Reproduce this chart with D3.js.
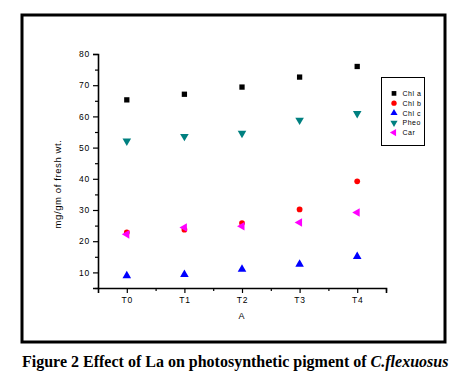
<!DOCTYPE html>
<html><head><meta charset="utf-8">
<script src="https://cdn.jsdelivr.net/npm/d3@7"></script>
<style>body{margin:0;background:#fff}svg{display:block}</style>
</head><body>
<svg id="c" width="466" height="389"></svg>
<script>
const categories = ["T0","T1","T2","T3","T4"];
const seriesNames = ["Chl a","Chl b","Chl c","Pheo","Car"];
const chlA = [65.3, 67.1, 69.4, 72.6, 76.0];
const chlB = [22.8, 23.7, 25.8, 30.2, 39.2];
const chlC = [8.9, 9.3, 11.0, 12.6, 15.1];
const pheo = [52.1, 53.6, 54.6, 58.8, 60.9];
const car  = [22.2, 24.4, 24.8, 26.0, 29.2];
const yMajorTicks = [10,20,30,40,50,60,70,80];
const yMinorTicks = [5,15,25,35,45,55,65,75];

const svg = d3.select("#c");
const font = "'Liberation Sans', Arial, sans-serif";

// outer frame
svg.append("rect").attr("x",22).attr("y",15).attr("width",423).attr("height",327)
  .attr("fill","none").attr("stroke","#000").attr("stroke-width",3);

const x = d3.scaleLinear().domain([-0.5,4.5]).range([98,386]);
const y = d3.scaleLinear().domain([5,80]).range([288,54]);

// y axis
const gy = svg.append("g").attr("transform","translate(98,0)");
gy.call(d3.axisLeft(y).tickValues(yMajorTicks).tickSize(5).tickPadding(3).tickFormat(d3.format("d")));
const gym = svg.append("g").attr("transform","translate(98,0)");
gym.call(d3.axisLeft(y).tickValues(yMinorTicks).tickSize(3).tickFormat(""));
gym.select(".domain").remove();

// x axis
const gx = svg.append("g").attr("transform","translate(0,288)");
gx.call(d3.axisBottom(x).tickValues([0,1,2,3,4]).tickSize(5).tickPadding(4).tickFormat(i=>categories[i]));
const gxm = svg.append("g").attr("transform","translate(0,288)");
gxm.call(d3.axisBottom(x).tickValues([0.5,1.5,2.5,3.5,4.5]).tickSize(3).tickFormat(""));
gxm.select(".domain").remove();

svg.selectAll(".domain").attr("stroke","#000").attr("stroke-width",1.6);
svg.selectAll(".tick line").attr("stroke","#000").attr("stroke-width",1.2);
svg.selectAll(".tick text").attr("font-family",font).attr("font-size",8.5)
  .attr("letter-spacing",0.8).attr("fill","#000");

// axis titles
svg.append("text").attr("x",242).attr("y",319).attr("text-anchor","middle")
  .attr("font-family",font).attr("font-size",9).attr("letter-spacing",0.8).text("A");
svg.append("text").attr("transform","translate(61,184) rotate(-90)").attr("text-anchor","middle")
  .attr("font-family",font).attr("font-size",9.5).attr("letter-spacing",0.6).text("mg/gm of fresh wt.");

// markers
const sym = {
  "Chl a": d3.symbol().type(d3.symbolSquare).size(28),
  "Chl b": d3.symbol().type(d3.symbolCircle).size(26),
  "Chl c": d3.symbol().type(d3.symbolTriangle).size(32),
  "Pheo":  d3.symbol().type(d3.symbolTriangle).size(32),
  "Car":   d3.symbol().type(d3.symbolTriangle).size(32)
};
const rot = {"Chl a":0,"Chl b":0,"Chl c":0,"Pheo":180,"Car":-90};
const colors = {"Chl a":"#000000","Chl b":"#ff0000","Chl c":"#0000ff","Pheo":"#008080","Car":"#ff00ff"};
const dataMap = {"Chl a":chlA,"Chl b":chlB,"Chl c":chlC,"Pheo":pheo,"Car":car};
const order = ["Chl a","Pheo","Chl c","Chl b","Car"];
order.forEach(name=>{
  svg.append("g").selectAll("path").data(dataMap[name]).join("path")
    .attr("d", sym[name]())
    .attr("transform",(d,i)=>`translate(${x(i)},${y(d)}) rotate(${rot[name]})`)
    .attr("fill",colors[name]);
});

// legend
const lg = svg.append("g");
lg.append("rect").attr("x",381.5).attr("y",77.5).attr("width",43).attr("height",68)
  .attr("fill","#fff").attr("stroke","#000").attr("stroke-width",1);
const ls = d3.scaleBand().domain(seriesNames).range([88.5,137.5]);
seriesNames.forEach(name=>{
  const cy = ls(name)+ls.bandwidth()/2;
  lg.append("path").attr("d", d3.symbol().type(sym[name].type()).size(22)())
    .attr("transform",`translate(394,${cy}) rotate(${rot[name]})`).attr("fill",colors[name]);
  lg.append("text").attr("x",402.5).attr("y",cy+2.5).attr("font-family",font)
    .attr("font-size",7).attr("letter-spacing",0.5).text(name);
});

// caption
const cap = svg.append("text").attr("x",22).attr("y",367)
  .attr("font-family","'Liberation Serif', 'Times New Roman', serif").attr("font-weight","bold").attr("font-size",16);
cap.append("tspan").text("Figure 2 Effect of La on photosynthetic pigment of ");
cap.append("tspan").attr("font-style","italic").text("C.flexuosus");
</script>
</body></html>
